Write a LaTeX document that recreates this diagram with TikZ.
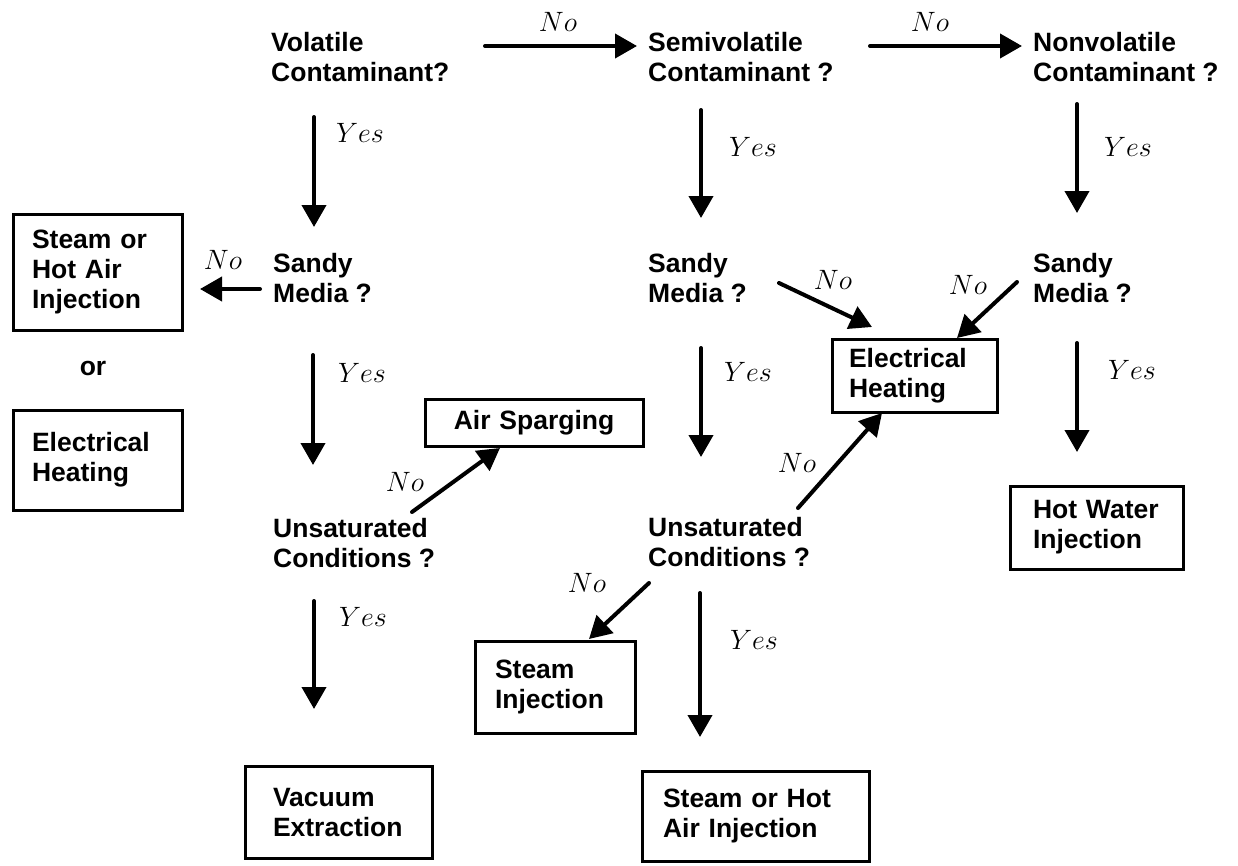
\RequirePackage{fix-cm}
\documentclass[tikz,border=0pt]{standalone}
\usepackage{fontspec}
\newfontfamily\arialfont{Liberation Sans}
\usetikzlibrary{arrows.meta,calc}
\hyphenpenalty=10000

\begin{document}
\begin{tikzpicture}[x=1pt,y=-1pt,
    query/.style={font=\fontsize{26.5}{30}\selectfont\arialfont\bfseries, align=left, inner sep=0pt, anchor=north west},
    method/.style={query, draw, line width=3pt, outer sep=0pt},
    answer/.style={font=\fontsize{28}{30}\selectfont, inner sep=0pt},
    arr/.style={line width=4pt, line cap=round, -{Triangle[length=22pt,width=24pt]}}]

    \useasboundingbox (0,0) rectangle (1238,865);

    % Questions
    \node[query] (vol) at (271,32) {Volatile\\Contaminant?};
    \node[query] (semi) at (648,32) {Semivolatile\\Contaminant ?};
    \node[query] (nonvol) at (1033,32) {Nonvolatile\\Contaminant ?};
    \node[query] (sandyA) at (273,253) {Sandy\\Media ?};
    \node[query] (sandyB) at (648,253) {Sandy\\Media ?};
    \node[query] (sandyC) at (1033,253) {Sandy\\Media ?};
    \node[query] (unsatA) at (273,518) {Unsaturated\\Conditions ?};
    \node[query] (unsatB) at (648,517) {Unsaturated\\Conditions ?};

    % Methods
    \node[method, inner xsep=19pt, text width=131pt, minimum height=116pt] (injA) at (13,214) {Steam or\\Hot Air\\Injection};
    \node[query, anchor=center] (or) at (93,368) {or};
    \node[method, inner xsep=19pt, text width=131pt, minimum height=100pt] (elecA) at (13,410) {Electrical\\Heating};
    \node[method, align=center, inner xsep=10pt, text width=198pt, minimum height=47pt] (air) at (425,399) {Air Sparging};
    \node[method, inner xsep=17pt, text width=131pt, minimum height=73pt] (elecB) at (832,339) {Electrical\\Heating};
    \node[method, inner xsep=23pt, text width=127pt, minimum height=83pt] (hotw) at (1010,486) {Hot~Water\\Injection};
    \node[method, inner xsep=20pt, text width=120pt, minimum height=92pt] (steamI) at (475,641) {Steam\\Injection};
    \node[method, inner xsep=28pt, text width=131pt, minimum height=92pt] (vacuum) at (245,766) {Vacuum\\Extraction};
    \node[method, inner xsep=21pt, text width=185pt, minimum height=90pt] (injB) at (642,771) {Steam or Hot\\Air Injection};

    % Volatile branch
    \draw[arr] ($(vol.north west)+(214,14)$) -- ($(semi.north west)+(-11,14)$);
    \node[answer] (no1) at (558,22) {$No$};
    \draw[arr] ($(vol.north west)+(43,85)$) -- ($(sandyA.north west)+(41,-26)$);
    \node[answer] (yes1) at (360,133) {$Yes$};
    \draw[arr] ($(sandyA.north west)+(-13,36)$) -- ($(injA.north east)+(18,75)$);
    \node[answer] (no2) at (223,260) {$No$};
    \draw[arr] ($(sandyA.north west)+(40,102)$) -- ($(unsatA.north west)+(40,-53)$);
    \node[answer] (yes2) at (362,373) {$Yes$};
    \draw[arr] ($(unsatA.north west)+(139,-6)$) -- ($(air.south west)+(75,2)$);
    \node[answer] (no3) at (405,482) {$No$};
    \draw[arr] ($(unsatA.north west)+(41,83)$) -- ($(vacuum.north west)+(69,-57)$);
    \node[answer] (yes3) at (363,617) {$Yes$};

    % Semivolatile branch
    \draw[arr] ($(semi.north west)+(222,14)$) -- ($(nonvol.north west)+(-11,14)$);
    \node[answer] (no4) at (930,22) {$No$};
    \draw[arr] ($(semi.north west)+(53,78)$) -- ($(sandyB.north west)+(53,-35)$);
    \node[answer] (yes4) at (753,147) {$Yes$};
    \draw[arr] ($(sandyB.north west)+(131,30)$) -- ($(elecB.north west)+(40,-12)$);
    \node[answer] (no5) at (833,280) {$No$};
    \draw[arr] ($(sandyB.north west)+(53,95)$) -- ($(unsatB.north west)+(53,-60)$);
    \node[answer] (yes5) at (748,372) {$Yes$};
    \draw[arr] ($(unsatB.north west)+(150,-9)$) -- ($(elecB.south west)+(50,1)$);
    \node[answer] (no6) at (797,463) {$No$};
    \draw[arr] ($(unsatB.north west)+(1,66)$) -- ($(steamI.north west)+(114,-2)$);
    \node[answer] (no7) at (587,583) {$No$};
    \draw[arr] ($(unsatB.north west)+(52,76)$) -- ($(injB.north west)+(58,-34)$);
    \node[answer] (yes6) at (754,640) {$Yes$};

    % Nonvolatile branch
    \draw[arr] ($(nonvol.north west)+(44,72)$) -- ($(sandyC.north west)+(44,-40)$);
    \node[answer] (yes7) at (1128,147) {$Yes$};
    \draw[arr] ($(sandyC.north west)+(-16,29)$) -- ($(elecB.north east)+(-40,-1)$);
    \node[answer] (no8) at (968,285) {$No$};
    \draw[arr] ($(sandyC.north west)+(44,90)$) -- ($(hotw.north west)+(67,-34)$);
    \node[answer] (yes8) at (1132,370) {$Yes$};
\end{tikzpicture}
\end{document}
